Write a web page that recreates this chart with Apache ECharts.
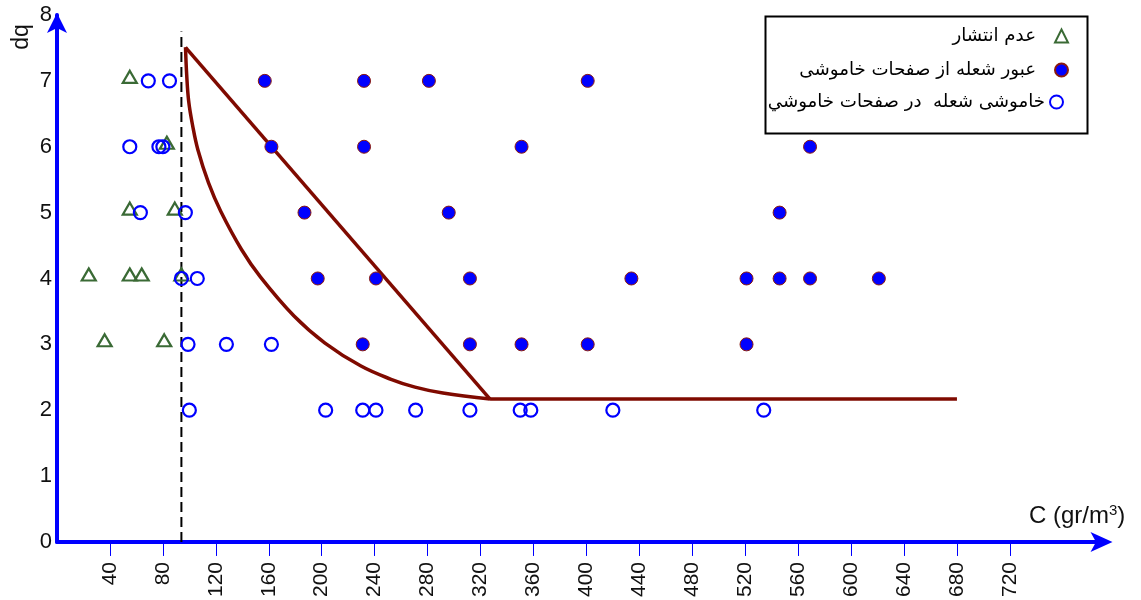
<!DOCTYPE html>
<html>
<head>
<meta charset="utf-8">
<script src="https://cdn.jsdelivr.net/npm/echarts@6/dist/echarts.min.js"></script>
<style>
html,body{margin:0;padding:0;background:#fff;}
#chart{width:1141px;height:600px;}
</style>
</head>
<body>
<div id="chart"></div>
<script>
// ---- data ----
const seriesNames = ['عدم انتشار', 'عبور شعله از صفحات خاموشی', 'خاموشی شعله  در صفحات خاموشي'];
const xTicks = [40, 80, 120, 160, 200, 240, 280, 320, 360, 400, 440, 480, 520, 560, 600, 640, 680, 720];
const yTicks = [0, 1, 2, 3, 4, 5, 6, 7, 8];
// no propagation (triangles)
const noSpread = [[55,7],[83,6],[55,5],[89,5],[24,4],[55,4],[64,4],[94,4],[36,3],[81,3]];
// flame passes through arrester (filled circles)
const flamePass = [
  [157,7],[232,7],[281,7],[401,7],
  [162,6],[232,6],[351,6],[569,6],
  [187,5],[296,5],[546,5],
  [197,4],[241,4],[312,4],[434,4],[521,4],[546,4],[569,4],[621,4],
  [231,3],[312,3],[351,3],[401,3],[521,3]
];
// flame quenched in arrester (open circles)
const flameQuench = [
  [69,7],[85,7],
  [55,6],[77,6],[80,6],
  [63,5],[97,5],
  [94,4],[106,4],
  [99,3],[128,3],[162,3],
  [100,2],[203,2],[231,2],[241,2],[271,2],[312,2],[350,2],[358,2],[420,2],[534,2]
];
// boundary lines
const boundaryCurve = [[97.1,7.51],[98.0,7.09],[99.5,6.69],[102.4,6.33],[106.5,5.95],[114.5,5.45],[123.7,5.02],[139.4,4.44],[153.8,4.02],[179.1,3.43],[202.5,3.02],[229.7,2.67],[252.4,2.47],[270.5,2.35],[291.6,2.26],[327.2,2.17]];
const boundaryStraight = [[97.1,7.51],[327.2,2.17]];
const boundaryFloor = [[327.2,2.17],[680,2.17]];
const thresholdLine = [[94,0],[94,7.75]];

const chart = echarts.init(document.getElementById('chart'));
const red = '#7f0a00';
const lblFont = 'Liberation Sans, Arial, sans-serif';
const arFont = 'DejaVu Sans, sans-serif';

const legendCommon = {
  orient: 'vertical', align: 'right', padding: 0, itemGap: 0, itemWidth: 13, itemHeight: 13,
  textStyle: {fontFamily: arFont, fontSize: 18.2, color: '#000'}
};

chart.setOption({
  animation: false,
  backgroundColor: '#fff',
  grid: {left: 57, top: 15, right: 34.5, bottom: 57, containLabel: false},
  xAxis: {
    type: 'value', min: 0, max: 793,
    splitLine: {show: false},
    axisLine: {show: true, onZero: false, symbol: ['none', 'arrow'], symbolSize: [15, 22], symbolOffset: [0, 6],
      lineStyle: {color: '#0000ff', width: 4}},
    axisTick: {show: true, length: 14, customValues: xTicks, lineStyle: {color: '#0000ff', width: 1}},
    axisLabel: {show: true, customValues: xTicks, rotate: 90, margin: 20,
      fontFamily: lblFont, fontSize: 21, color: '#111'}
  },
  yAxis: {
    type: 'value', min: 0, max: 8, interval: 1,
    splitLine: {show: false},
    axisLine: {show: true, onZero: false, symbol: ['none', 'arrow'], symbolSize: [15, 20], symbolOffset: [0, 2],
      lineStyle: {color: '#0000ff', width: 4}},
    axisTick: {show: false},
    axisLabel: {show: true, customValues: yTicks, margin: 5, fontFamily: lblFont, fontSize: 22, color: '#111',
      padding: [0, 0, 6, 0]}
  },
  legend: [
    Object.assign({}, legendCommon, {data: [seriesNames[0]], right: 72, top: 27,
      textStyle: Object.assign({}, legendCommon.textStyle, {padding: [0, 14, 0, 0]})}),
    Object.assign({}, legendCommon, {data: [seriesNames[1]], right: 72, top: 61,
      textStyle: Object.assign({}, legendCommon.textStyle, {padding: [0, 14, 0, 0]})}),
    Object.assign({}, legendCommon, {data: [seriesNames[2]], right: 77, top: 93})
  ],
  graphic: [
    {type: 'rect', left: 763, top: 14, shape: {width: 322, height: 117},
      style: {fill: 'none', stroke: '#000', lineWidth: 2}, z: 0},
    {type: 'text', x: 22, y: 37, rotation: Math.PI / 2,
      style: {text: 'dq', fontFamily: lblFont, fontSize: 23, fill: '#111', align: 'center', verticalAlign: 'middle'}},
    {type: 'text', left: 1029, top: 503,
      style: {text: 'C (gr/m{sup|3})', fontFamily: lblFont, fontSize: 24, fill: '#111',
        rich: {sup: {fontSize: 15, fontFamily: lblFont, verticalAlign: 'top', padding: [0, 0, 12, 0]}}}}
  ],
  series: [
    {type: 'line', data: thresholdLine, symbol: 'none', silent: true, z: 1,
      lineStyle: {color: '#000', width: 2, type: [10, 5]}},
    {type: 'line', data: boundaryCurve, symbol: 'none', smooth: 0.4, silent: true, z: 2,
      lineStyle: {color: red, width: 3.5}},
    {type: 'line', data: boundaryStraight, symbol: 'none', silent: true, z: 2,
      lineStyle: {color: red, width: 3.5}},
    {type: 'line', data: boundaryFloor, symbol: 'none', silent: true, z: 2,
      lineStyle: {color: red, width: 3.5}},
    {name: seriesNames[0], type: 'scatter', data: noSpread, symbol: 'triangle', symbolSize: [14, 12],
      symbolOffset: [0, -4], z: 5,
      itemStyle: {color: 'rgba(0,0,0,0)', borderColor: '#3a6a35', borderWidth: 2.2, opacity: 1}},
    {name: seriesNames[1], type: 'scatter', data: flamePass, symbol: 'circle', symbolSize: 13, z: 5,
      itemStyle: {color: '#0000ff', borderColor: '#8a1a10', borderWidth: 1, opacity: 1}},
    {name: seriesNames[2], type: 'scatter', data: flameQuench, symbol: 'circle', symbolSize: 13, z: 5,
      itemStyle: {color: 'rgba(0,0,0,0)', borderColor: '#0000ff', borderWidth: 2.2, opacity: 1}}
  ]
});
</script>
</body>
</html>
